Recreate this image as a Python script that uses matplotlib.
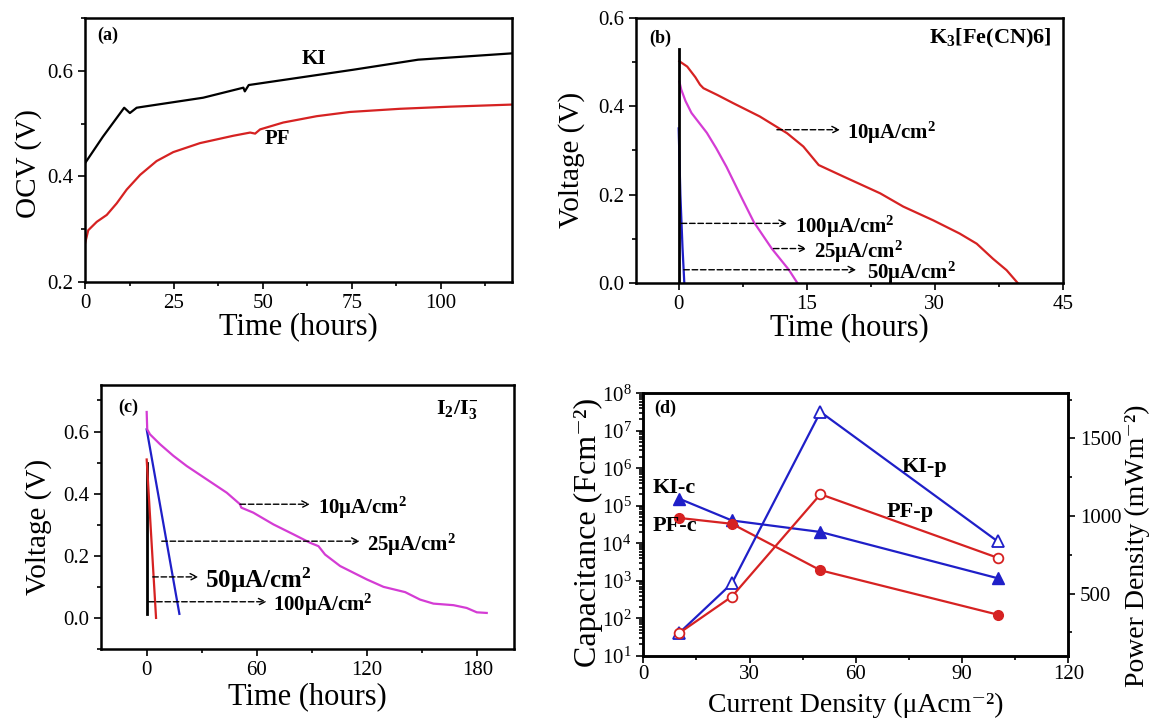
import matplotlib
matplotlib.use('agg')
import matplotlib.pyplot as plt
from matplotlib.ticker import MultipleLocator, LogLocator, LogFormatterMathtext

# (a) open circuit voltage vs time
a_ki_t = [0, 5, 11, 12.6, 14.5, 16.4, 33.2, 44.5, 44.9, 46, 75.4, 93.6, 120]
a_ki_v = [0.425, 0.475, 0.530, 0.520, 0.530, 0.532, 0.549, 0.568, 0.561, 0.573, 0.602, 0.621, 0.633]
a_pf_t = [0, 0.9, 3.3, 6.1, 8.9, 11.7, 15.5, 20.1, 24.8, 32.3, 41.7, 46.4, 47.8, 49.2, 55.7, 65.1,
          74.4, 88.5, 102.5, 120]
a_pf_v = [0.273, 0.298, 0.314, 0.327, 0.349, 0.375, 0.403, 0.429, 0.446, 0.463, 0.477, 0.483, 0.481,
          0.489, 0.502, 0.514, 0.522, 0.528, 0.532, 0.536]

# (b) discharge, K3[Fe(CN)6]
b10_t = [0.08, 1, 1.95, 2.5, 2.9, 4.5, 6.4, 9.5, 12.7, 14.6, 16.4, 19.3, 23.6, 26.3, 29.8, 32.9,
         34.9, 36.8, 38.4, 39.7]
b10_v = [0.502, 0.49, 0.466, 0.449, 0.441, 0.426, 0.407, 0.377, 0.339, 0.309, 0.267, 0.241, 0.203,
         0.173, 0.142, 0.112, 0.089, 0.055, 0.029, 0.0]
b25_t = [0.08, 0.3, 0.8, 1.5, 2.3, 3.3, 4.4, 5.6, 7.4, 8.8, 10.9, 12.9, 13.9]
b25_v = [0.456, 0.438, 0.412, 0.385, 0.365, 0.340, 0.305, 0.263, 0.192, 0.138, 0.078, 0.030, 0.0]
b50_t = [0, 0.2, 0.45, 0.66]
b50_v = [0.35, 0.2, 0.08, 0.0]
b100_t = [0, 0]
b100_v = [0.53, 0.0]

# (c) discharge, I2/I3-
c10_t = [0, 0.3, 1.8, 7.3, 14.5, 21.8, 32.7, 43.6, 50.8, 51.5, 58, 69, 79.9, 88.9, 93.5, 97.1,
         105.3, 119.8, 128.9, 140.7, 148.8, 156.1, 167, 174.2, 179.7, 185.1]
c10_v = [0.663, 0.607, 0.591, 0.559, 0.522, 0.489, 0.446, 0.403, 0.366, 0.355, 0.339, 0.301, 0.269,
         0.242, 0.231, 0.204, 0.167, 0.124, 0.1, 0.083, 0.059, 0.046, 0.041, 0.032, 0.018, 0.016]
c25_t = [0, 17.8]
c25_v = [0.607, 0.013]
c50_t = [0, 5.1]
c50_v = [0.51, 0.0]
c100_t = [0, 0]
c100_v = [0.5, 0.013]

# (d) capacitance and power density vs current density
cd = [10, 25, 50, 100]
ki_c = [1.56e5, 4.05e4, 2.0e4, 1.17e3]
pf_c = [4.75e4, 3.3e4, 1.9e3, 1.25e2]
ki_p = [244, 566, 1670, 837]
pf_p = [244, 481, 1140, 731]

RED = '#d62222'
BLUE = '#1f1fc8'
MAG = '#d43cd4'

plt.rcParams['font.family'] = ['Liberation Serif', 'DejaVu Serif']
plt.rcParams['mathtext.fontset'] = 'custom'
plt.rcParams['mathtext.rm'] = 'Liberation Serif'
plt.rcParams['mathtext.it'] = 'Liberation Serif:italic'
plt.rcParams['mathtext.bf'] = 'Liberation Serif:bold'
plt.rcParams['mathtext.default'] = 'regular'
plt.rcParams['axes.linewidth'] = 1.8

XLAB = 22
YLAB = 21
TICK = 15
ANN = 15


def style(ax):
    ax.tick_params(which='both', direction='out', top=False, right=False, labelsize=TICK, width=1.2)
    ax.tick_params(which='major', length=5)
    ax.tick_params(which='minor', length=3)


def arrow(ax, x0, x1, y, xt, label, fs=ANN):
    ax.annotate('', xy=(x1, y), xytext=(x0, y),
                arrowprops=dict(arrowstyle='->', lw=1, ls=(0, (4, 2)), color='k',
                                shrinkA=0, shrinkB=0, mutation_scale=12))
    ax.text(xt, y, label, fontsize=fs, fontweight='bold', ha='left', va='center_baseline')


fig = plt.figure(figsize=(11.54, 7.19), dpi=100)

# (a)
ax1 = fig.add_axes([0.0737, 0.6078, 0.370, 0.3672])
ax1.plot(a_ki_t, a_ki_v, color='k', lw=1.6)
ax1.plot(a_pf_t, a_pf_v, color=RED, lw=1.6)
ax1.set_xlim(0, 120)
ax1.set_ylim(0.2, 0.7)
ax1.xaxis.set_major_locator(MultipleLocator(25))
ax1.xaxis.set_minor_locator(MultipleLocator(12.5))
ax1.yaxis.set_major_locator(MultipleLocator(0.2))
ax1.yaxis.set_minor_locator(MultipleLocator(0.1))
ax1.yaxis.set_major_formatter(lambda v, p: f'{v:.1f}')
style(ax1)
ax1.set_xlabel('Time (hours)', fontsize=XLAB)
ax1.set_ylabel('OCV (V)', fontsize=YLAB)
ax1.xaxis.set_label_coords(0.5, -0.114)
ax1.yaxis.set_label_coords(-0.101, 0.45)
ax1.text(3.3, 0.667, '(a)', fontsize=13, fontweight='bold', va='center')
ax1.text(64.4, 0.623, 'KI', fontsize=ANN, fontweight='bold', ha='center', va='center')
ax1.text(54.1, 0.470, 'PF', fontsize=ANN, fontweight='bold', ha='center', va='center')

# (b)
ax2 = fig.add_axes([0.5511, 0.6064, 0.370, 0.3686])
ax2.plot(b10_t, b10_v, color=RED, lw=1.6)
ax2.plot(b25_t, b25_v, color=MAG, lw=1.6)
ax2.plot(b50_t, b50_v, color=BLUE, lw=1.6)
ax2.plot(b100_t, b100_v, color='k', lw=2)
ax2.set_xlim(-5, 45)
ax2.set_ylim(0, 0.6)
ax2.xaxis.set_major_locator(MultipleLocator(15))
ax2.xaxis.set_minor_locator(MultipleLocator(7.5))
ax2.yaxis.set_major_locator(MultipleLocator(0.2))
ax2.yaxis.set_minor_locator(MultipleLocator(0.1))
ax2.yaxis.set_major_formatter(lambda v, p: f'{v:.1f}')
style(ax2)
ax2.set_xlabel('Time (hours)', fontsize=XLAB)
ax2.set_ylabel('Voltage (V)', fontsize=YLAB)
ax2.xaxis.set_label_coords(0.5, -0.113)
ax2.yaxis.set_label_coords(-0.119, 0.464)
ax2.text(-3.5, 0.555, '(b)', fontsize=13, fontweight='bold', va='center')
ax2.text(43.6, 0.553, r'K$_\mathbf{3}$[Fe(CN)6]', fontsize=16, fontweight='bold', ha='right', va='center')
arrow(ax2, 11.5, 18.9, 0.347, 19.7, r'10μA/cm$^\mathbf{2}$')
arrow(ax2, 0.3, 12.7, 0.135, 13.6, r'100μA/cm$^\mathbf{2}$')
arrow(ax2, 11.1, 15.0, 0.078, 15.8, r'25μA/cm$^\mathbf{2}$')
arrow(ax2, 0.6, 20.8, 0.030, 22.0, r'50μA/cm$^\mathbf{2}$')

# (c)
ax3 = fig.add_axes([0.0873, 0.0974, 0.3582, 0.3672])
ax3.plot(c100_t, c100_v, color='k', lw=2)
ax3.plot(c50_t, c50_v, color=RED, lw=1.6)
ax3.plot(c25_t, c25_v, color=BLUE, lw=1.6)
ax3.plot(c10_t, c10_v, color=MAG, lw=1.6)
ax3.set_xlim(-25, 200)
ax3.set_ylim(-0.1, 0.75)
ax3.xaxis.set_major_locator(MultipleLocator(60))
ax3.xaxis.set_minor_locator(MultipleLocator(30))
ax3.yaxis.set_major_locator(MultipleLocator(0.2))
ax3.yaxis.set_minor_locator(MultipleLocator(0.1))
ax3.yaxis.set_major_formatter(lambda v, p: f'{v:.1f}')
style(ax3)
ax3.set_xlabel('Time (hours)', fontsize=XLAB)
ax3.set_ylabel('Voltage (V)', fontsize=YLAB)
ax3.xaxis.set_label_coords(0.5, -0.125)
ax3.yaxis.set_label_coords(-0.119, 0.463)
ax3.text(-15.4, 0.677, '(c)', fontsize=13, fontweight='bold', va='center')
ax3.text(180.6, 0.670, r'I$_\mathbf{2}$/I$_\mathbf{3}^\mathbf{-}$', fontsize=16, fontweight='bold',
         ha='right', va='center')
arrow(ax3, 50.8, 88.9, 0.366, 93.5, r'10μA/cm$^\mathbf{2}$')
arrow(ax3, 8.2, 116.0, 0.247, 119.8, r'25μA/cm$^\mathbf{2}$')
arrow(ax3, 3.3, 28.1, 0.132, 31.8, r'50μA/cm$^\mathbf{2}$', fs=18)
arrow(ax3, 0.9, 65.3, 0.052, 69.0, r'100μA/cm$^\mathbf{2}$')

# (d)
ax4 = fig.add_axes([0.5575, 0.088, 0.3683, 0.365])
ax4.semilogy(cd, ki_c, color=BLUE, lw=1.6, marker='^', ms=8)
ax4.semilogy(cd, pf_c, color=RED, lw=1.6, marker='o', ms=7)
ax4.set_xlim(0, 120)
ax4.set_ylim(1e1, 1e8)
ax4.xaxis.set_major_locator(MultipleLocator(30))
ax4.xaxis.set_minor_locator(MultipleLocator(15))
ax4.yaxis.set_major_locator(LogLocator(base=10, numticks=10))
ax4.yaxis.set_minor_locator(LogLocator(base=10, subs=range(2, 10), numticks=20))
ax4.yaxis.set_major_formatter(LogFormatterMathtext())
style(ax4)
ax4.tick_params(axis='x', pad=2)
ax4.set_xlabel('Current Density (μAcm⁻²)', fontsize=20, va='bottom')
ax4.set_ylabel('Capacitance (Fcm⁻²)', fontsize=23)
ax4.xaxis.set_label_coords(0.5, -0.236)
ax4.yaxis.set_label_coords(-0.096, 0.47)

ax4r = ax4.twinx()
ax4r.plot(cd, ki_p, color=BLUE, lw=1.6, marker='^', ms=8, mfc='white', mew=1.3)
ax4r.plot(cd, pf_p, color=RED, lw=1.6, marker='o', ms=7, mfc='white', mew=1.3)
ax4r.set_ylim(100, 1790)
ax4r.yaxis.set_major_locator(MultipleLocator(500))
ax4r.yaxis.set_minor_locator(MultipleLocator(250))
ax4r.tick_params(which='both', direction='out', labelsize=TICK, width=1.2)
ax4r.tick_params(which='major', length=5)
ax4r.tick_params(which='minor', length=3)
ax4r.set_ylabel('Power Density (mWm⁻²)', fontsize=20)
ax4r.yaxis.set_label_coords(1.132, 0.42)

ax4.text(3.0, 10**7.6, '(d)', fontsize=13, fontweight='bold', va='center')
ax4.text(2.5, 10**5.48, 'KI-c', fontsize=16, fontweight='bold', va='center')
ax4.text(2.5, 10**4.45, 'PF-c', fontsize=16, fontweight='bold', va='center')
ax4.text(72.8, 10**6.03, 'KI-p', fontsize=16, fontweight='bold', va='center')
ax4.text(68.6, 10**4.84, 'PF-p', fontsize=16, fontweight='bold', va='center')

fig.savefig('out.png', dpi=100)
